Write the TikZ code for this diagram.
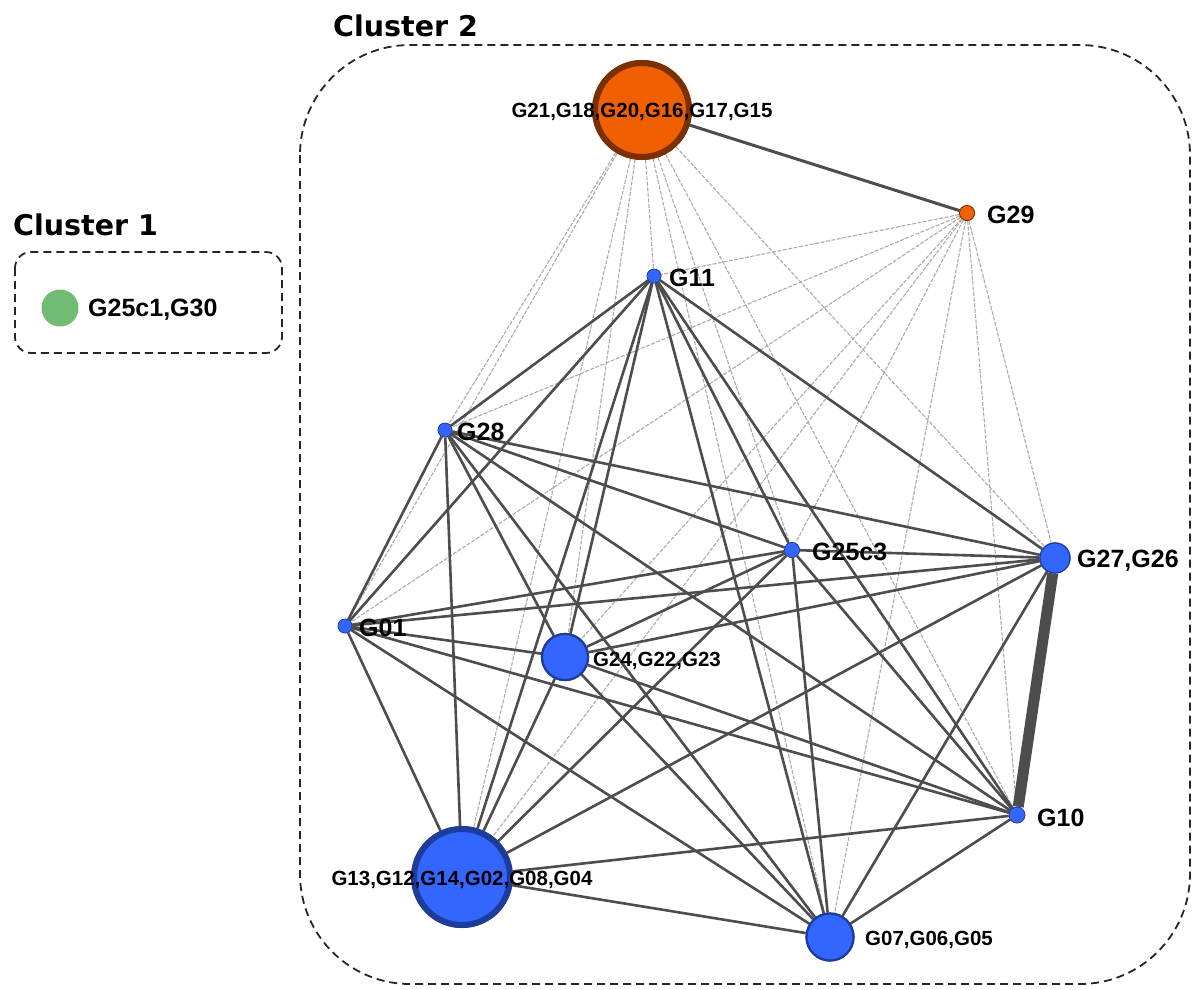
\documentclass[tikz,border=0pt]{standalone}
\usepackage{fontspec}
\setmainfont{Liberation Sans}
\newfontfamily\titlefont{DejaVu Sans}
\definecolor{nblue}{HTML}{3366FF}
\definecolor{nblueb}{HTML}{1E3C9C}
\definecolor{norange}{HTML}{F06000}
\definecolor{norangeb}{HTML}{7A3000}
\definecolor{ngreen}{HTML}{72BB72}
\definecolor{edark}{HTML}{4D4D4D}
\definecolor{elight}{HTML}{ABABAB}
\tikzset{
  bnode/.style={circle, inner sep=0pt, fill=nblue, draw=nblueb},
  onode/.style={circle, inner sep=0pt, fill=norange, draw=norangeb},
  biglbl/.style={font=\bfseries\fontsize{25}{28}\selectfont, inner sep=0pt, anchor=west},
  smllbl/.style={font=\bfseries\fontsize{20.5}{24}\selectfont, inner sep=0pt},
  dk/.style={draw=edark, line width=2.6pt},
  lt/.style={draw=elight, line width=1.1pt, dash pattern=on 4pt off 1.5pt},
  clusterbox/.style={draw=black!85, line width=1.8pt, dash pattern=on 8pt off 5pt},
  ctitle/.style={font=\titlefont\bfseries\fontsize{28.5}{32}\selectfont, inner sep=0pt, anchor=base west}
}
\begin{document}
\begin{tikzpicture}[x=1pt,y=-1pt]
\useasboundingbox (0,0) rectangle (1192,989);
% cluster boxes
\draw[clusterbox, rounded corners=110pt] (300,45) rectangle (1190,984);
\draw[clusterbox, rounded corners=16pt] (15,252) rectangle (282,353);
\node[ctitle] (t1) at (13,235) {Cluster 1};
\node[ctitle] (t2) at (333,36) {Cluster 2};
% nodes (placed first so edges can refer to them)
\node[onode, minimum size=94pt, line width=6pt] (O) at (642,110) {};
\node[onode, minimum size=15pt, line width=0.8pt] (g29) at (967,213) {};
\node[bnode, minimum size=14pt, line width=0.6pt] (g11) at (654,276) {};
\node[bnode, minimum size=14pt, line width=0.6pt] (g28) at (445,430) {};
\node[bnode, minimum size=15pt, line width=0.6pt] (g25) at (792,550) {};
\node[bnode, minimum size=30pt, line width=1.2pt] (A) at (1055,558) {};
\node[bnode, minimum size=14pt, line width=0.6pt] (g01) at (345,626) {};
\node[bnode, minimum size=46pt, line width=2.2pt] (B) at (565,657) {};
\node[bnode, minimum size=16pt, line width=0.6pt] (g10) at (1017,815) {};
\node[bnode, minimum size=96pt, line width=6pt] (C) at (462,877) {};
\node[bnode, minimum size=47pt, line width=2.2pt] (D) at (830,937) {};
\node[circle, inner sep=0pt, fill=ngreen, minimum size=37pt] (gr) at (60,308) {};
% edges
\foreach \t in {g11,g28,g25,A,g01,B,g10,C,D}{
  \draw[lt] (O) -- (\t);
  \draw[lt] (g29) -- (\t);
}
\foreach \s/\t in {g11/g28,g11/g25,g11/A,g11/g01,g11/B,g11/g10,g11/C,g11/D,
  g28/g25,g28/A,g28/g01,g28/B,g28/g10,g28/C,g28/D,
  g25/A,g25/g01,g25/B,g25/g10,g25/C,g25/D,
  A/g01,A/B,A/C,A/D,
  g01/B,g01/g10,g01/C,g01/D,
  B/g10,B/C,B/D,
  g10/C,g10/D,C/D}{
  \draw[dk] (\s) -- (\t);
}
\draw[draw=edark, line width=3pt] (O) -- (g29);
\draw[draw=edark, line width=11pt] (A) -- (g10);
% redraw nodes on top
\node[onode, minimum size=94pt, line width=6pt] at (O) {};
\node[onode, minimum size=15pt, line width=0.8pt] at (g29) {};
\node[bnode, minimum size=14pt, line width=0.6pt] at (g11) {};
\node[bnode, minimum size=14pt, line width=0.6pt] at (g28) {};
\node[bnode, minimum size=15pt, line width=0.6pt] at (g25) {};
\node[bnode, minimum size=30pt, line width=1.2pt] at (A) {};
\node[bnode, minimum size=14pt, line width=0.6pt] at (g01) {};
\node[bnode, minimum size=46pt, line width=2.2pt] at (B) {};
\node[bnode, minimum size=16pt, line width=0.6pt] at (g10) {};
\node[bnode, minimum size=96pt, line width=6pt] at (C) {};
\node[bnode, minimum size=47pt, line width=2.2pt] at (D) {};
% labels
\node[smllbl] (lO) at (642,112) {G21,G18,G20,G16,G17,G15};
\node[smllbl] (lC) at (462,880) {G13,G12,G14,G02,G08,G04};
\node[biglbl] (l29) at (987,215) {G29};
\node[biglbl] (l11) at (669,278) {G11};
\node[biglbl] (l28) at (457,432) {G28};
\node[biglbl] (l25) at (812,552) {G25c3};
\node[biglbl] (lA) at (1077,561) {G27,G26};
\node[biglbl] (l01) at (359,628) {G01};
\node[smllbl, anchor=west] (lB) at (593,661) {G24,G22,G23};
\node[biglbl] (l10) at (1037,818) {G10};
\node[smllbl, anchor=west] (lD) at (865,940) {G07,G06,G05};
\node[biglbl] (lgr) at (88,310) {G25c1,G30};
\end{tikzpicture}
\end{document}
